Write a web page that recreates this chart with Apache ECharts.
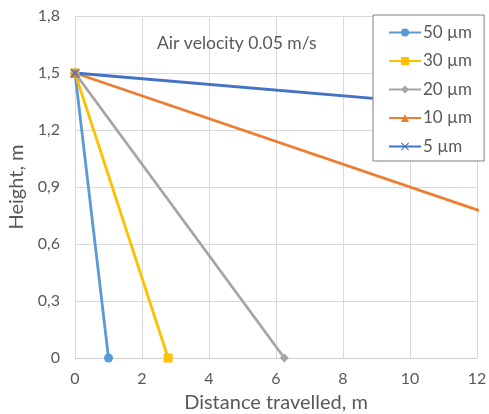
<!DOCTYPE html>
<html>
<head>
<meta charset="utf-8">
<script src="https://cdn.jsdelivr.net/npm/echarts@6/dist/echarts.min.js"></script>
<style>
  html, body { margin: 0; padding: 0; background: #fff; }
  #chart { width: 489px; height: 414px; }
</style>
</head>
<body>
<div id="chart"></div>
<script>
// Particle trajectories released at 1.5 m, falling while carried sideways by the air stream
const seriesNames = ['50 µm', '30 µm', '20 µm', '10 µm', '5 µm'];
const startHeight = 1.5;
const startDistance = 0;
// horizontal distance at which each particle size reaches the floor (m)
const landingDistance = [1.0, 2.78, 6.25, 25, 100];
const seriesColors = ['#5B9BD5', '#FFC000', '#A5A5A5', '#ED7D31', '#4472C4'];
const xTicks = [0, 2, 4, 6, 8, 10, 12];
const yTicks = [0, 0.3, 0.6, 0.9, 1.2, 1.5, 1.8];

const crossPath = 'path://M0,1L1,0L5,4L9,0L10,1L6,5L10,9L9,10L5,6L1,10L0,9L4,5Z';
const symbols = ['circle', 'rect', 'diamond', 'triangle', crossPath];
const symbolSizes = [9, 9, 9, 10, 9];

const textColor = '#595959';
const font = 'Lato';

const series = seriesNames.map((name, i) => ({
  name,
  type: 'line',
  data: [[startDistance, startHeight], [landingDistance[i], 0]],
  color: seriesColors[i],
  symbol: symbols[i],
  symbolSize: symbolSizes[i],
  showAllSymbol: true,
  clip: true,
  lineStyle: { width: 2.8, color: seriesColors[i] },
  itemStyle: { color: seriesColors[i] },
  z: 2
}));

const chart = echarts.init(document.getElementById('chart'), null, { renderer: 'canvas' });
chart.setOption({
  animation: false,
  backgroundColor: '#fff',
  grid: { left: 75, right: 12, top: 16, bottom: 56, containLabel: false, outerBoundsMode: 'none' },
  xAxis: {
    type: 'value',
    min: xTicks[0],
    max: xTicks[xTicks.length - 1],
    interval: 2,
    name: 'Distance travelled, m',
    nameLocation: 'middle',
    nameGap: 35,
    nameTextStyle: { color: textColor, fontSize: 20, fontFamily: font },
    axisLine: { show: true, lineStyle: { color: '#d0d0d0', width: 1 } },
    axisTick: { show: false },
    axisLabel: { color: textColor, fontSize: 16, fontFamily: font, margin: 13 },
    splitLine: { show: true, lineStyle: { color: '#d9d9d9', width: 1 } }
  },
  yAxis: {
    type: 'value',
    min: yTicks[0],
    max: yTicks[yTicks.length - 1],
    interval: 0.3,
    name: 'Height, m',
    nameLocation: 'middle',
    nameGap: 40,
    nameTextStyle: { color: textColor, fontSize: 20, fontFamily: font },
    axisLine: { show: false },
    axisTick: { show: false },
    axisLabel: {
      color: textColor, fontSize: 16, fontFamily: font, margin: 15,
      formatter: v => (v === 0 ? '0' : v.toFixed(1).replace('.', ','))
    },
    splitLine: { show: true, lineStyle: { color: '#d9d9d9', width: 1 } }
  },
  legend: {
    orient: 'vertical',
    left: 373,
    top: 15,
    padding: [9, 12, 6, 15],
    itemWidth: 32,
    itemHeight: 10,
    itemGap: 11.5,
    z: 10,
    backgroundColor: '#fff',
    borderColor: '#7f7f7f',
    borderWidth: 1,
    textStyle: { color: textColor, fontSize: 17, fontFamily: font, padding: [0, 0, 0, -3] },
    data: seriesNames
  },
  graphic: [{
    type: 'text',
    left: 157,
    top: 34,
    z: 5,
    style: { text: 'Air velocity 0.05 m/s', fill: textColor, fontSize: 17.5, fontFamily: font }
  }],
  series
});
</script>
</body>
</html>
